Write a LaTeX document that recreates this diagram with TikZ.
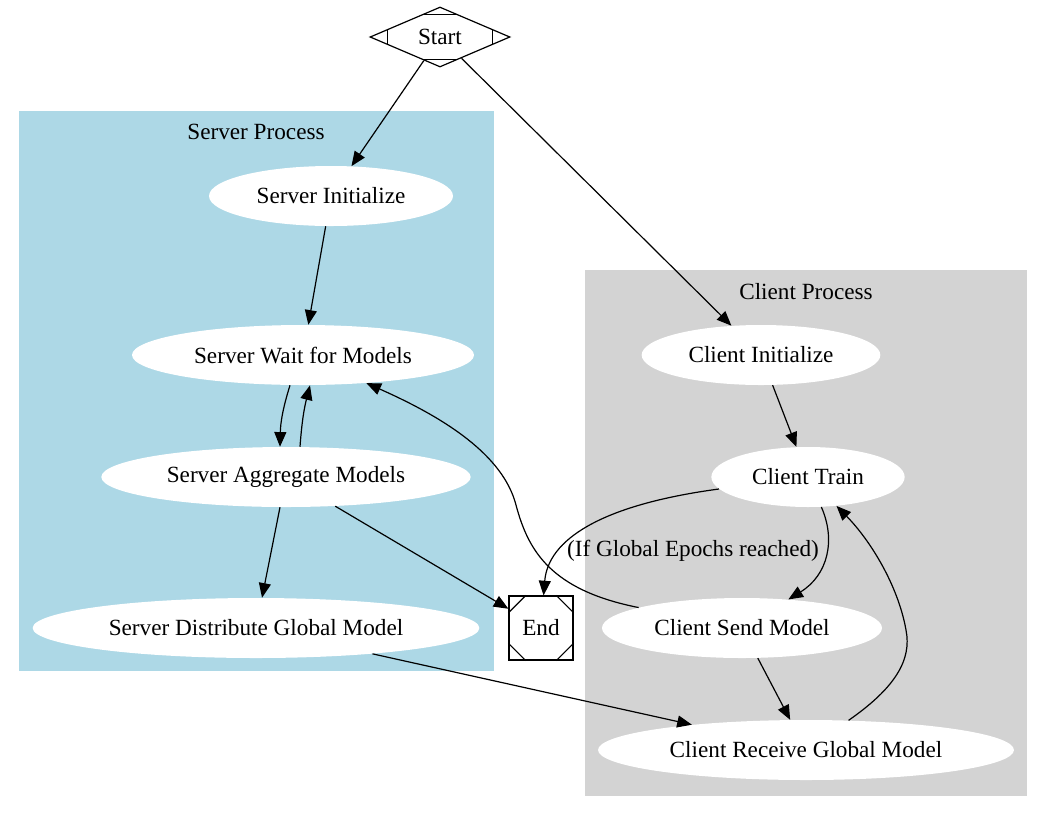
\documentclass[tikz,border=0pt]{standalone}
\usepackage{fontspec}
\setmainfont{Liberation Serif}
\usetikzlibrary{positioning, shapes.geometric, arrows.meta, calc}
\definecolor{serverblue}{RGB}{173,216,230}
\definecolor{clientgray}{RGB}{211,211,211}
\tikzset{
	proc/.style={ellipse, fill=white, inner sep=0pt, minimum height=45pt, minimum width=#1},
	startbox/.style={diamond, draw, line width=0.9pt, inner sep=0pt, aspect=2.3, minimum width=105pt, minimum height=45pt},
	endbox/.style={rectangle, draw, line width=0.9pt, inner sep=0pt, minimum size=48pt},
	clusterlbl/.style={inner sep=1pt},
	flow/.style={line width=0.9pt, -{Triangle[length=11pt, width=9pt]}},
	every node/.style={font=\fontsize{17.4pt}{20pt}\selectfont}
}

\begin{document}
\begin{tikzpicture}[x=0.75pt, y=-0.75pt]
\useasboundingbox (0,0) rectangle (1046,815);
% clusters
\fill[serverblue] (19,111) rectangle (494,671);
\fill[clientgray] (585,270) rectangle (1027,796);
\node[clusterlbl] (serverlbl) at (256,132) {Server Process};
\node[clusterlbl] (clientlbl) at (806,292) {Client Process};

\node[startbox] (start) at (440,37) {Start};
\draw[line width=0.9pt] ($(start.north)!0.26!(start.west)$) -- ($(start.north)!0.26!(start.east)$);
\draw[line width=0.9pt] ($(start.south)!0.26!(start.west)$) -- ($(start.south)!0.26!(start.east)$);
\draw[line width=0.9pt] ($(start.west)!0.26!(start.north)$) -- ($(start.west)!0.26!(start.south)$);
\draw[line width=0.9pt] ($(start.east)!0.26!(start.north)$) -- ($(start.east)!0.26!(start.south)$);

\node[proc=183pt] (sinit) at (331,196) {Server Initialize};
\node[proc=256.5pt] (swait) at (303,355) {Server Wait for Models};
\node[proc=277pt] (sagg) at (286,477) {Server Aggregate Models};
\node[proc=335pt] (sdist) at (256,628) {Server Distribute Global Model};

\node[endbox] (fin) at (541,628) {End};
\draw[line width=0.9pt] ([yshift=-13pt]fin.north west) -- ([xshift=13pt]fin.north west);
\draw[line width=0.9pt] ([yshift=-13pt]fin.north east) -- ([xshift=-13pt]fin.north east);
\draw[line width=0.9pt] ([yshift=13pt]fin.south west) -- ([xshift=13pt]fin.south west);
\draw[line width=0.9pt] ([yshift=13pt]fin.south east) -- ([xshift=-13pt]fin.south east);

\node[proc=179pt] (cinit) at (761,355) {Client Initialize};
\node[proc=145pt] (ctrain) at (808,477) {Client Train};
\node[proc=210pt] (csend) at (742,628) {Client Send Model};
\node[proc=312pt] (crecv) at (806,750) {Client Receive Global Model};

% edges
\draw[flow] (start) -- (sinit);
\draw[flow] (start) -- (cinit);
\draw[flow] (sinit) -- (swait);
\draw[flow] ([xshift=-9.75pt]swait.south) to[bend right=8] ([xshift=-4.5pt]sagg.north);
\draw[flow] ([xshift=10.5pt]sagg.north) to[bend left=5] ([xshift=5.25pt]swait.south);
\draw[flow] (sagg) -- (sdist);
\draw[flow] (sagg) -- (fin);
\draw[flow] (sdist) -- (crecv);
\draw[flow] (cinit) -- (ctrain);
\draw[flow] (ctrain) .. controls (600,505) and (548,540) .. (fin)
	node[clusterlbl] (epochlbl) at (693,551) {(If Global Epochs reached)};
\draw[flow] (ctrain) .. controls (836,540) and (828,575) .. (csend);
\draw[flow] (csend) .. controls (550,590) and (528,550) .. (516,505)
	.. controls (503,455) and (445,418) .. (swait);
\draw[flow] (csend) -- (crecv);
\draw[flow] (crecv) .. controls (895,688) and (912,660) .. (906,630)
	.. controls (898,585) and (870,540) .. (ctrain);
\end{tikzpicture}
\end{document}
